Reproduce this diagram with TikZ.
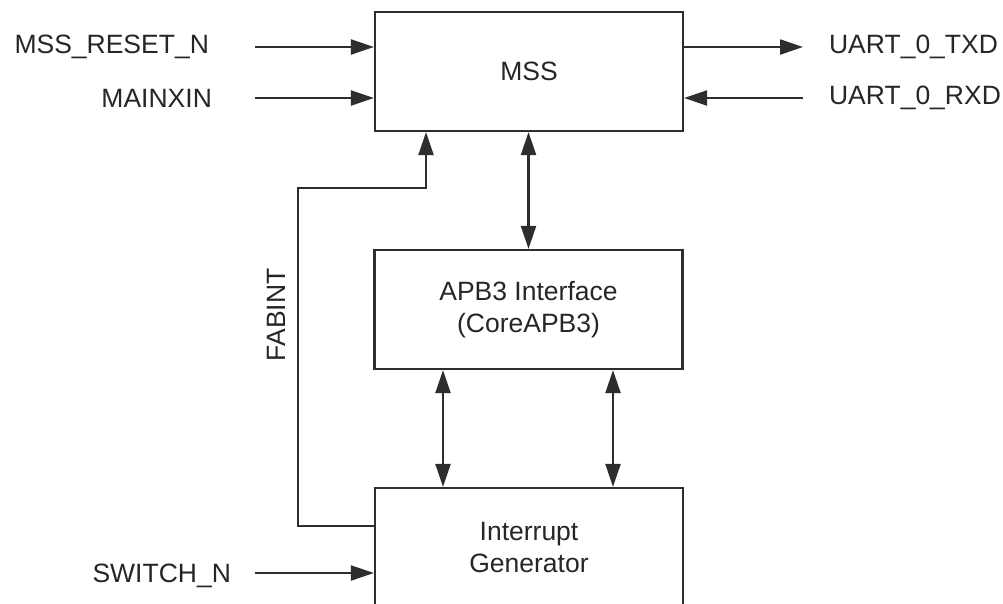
\documentclass[tikz,border=0pt]{standalone}
\usepackage{fontspec}
\setmainfont{Liberation Sans}
\usetikzlibrary{arrows.meta}
\definecolor{ink}{HTML}{2E2E2E}
\definecolor{txt}{HTML}{262626}
\begin{document}
\begin{tikzpicture}[x=1pt,y=-1pt,line width=2.2pt,draw=ink,
  every node/.style={text=txt,font=\fontsize{26.5}{32}\selectfont},
  blk/.style={draw=ink,minimum width=308pt,minimum height=119pt,inner sep=0pt,align=center},
  lbl/.style={inner sep=0pt},
  arr/.style={-{Triangle[length=23pt,width=15pt]}},
  biarr/.style={{Triangle[length=23pt,width=15pt]}-{Triangle[length=23pt,width=15pt]}}]
\useasboundingbox (0,0) rectangle (1003,603);
\clip (0,0) rectangle (1003,603);
\fill[white] (0,0) rectangle (1003,603);
% blocks
\node[blk] (mss) at (529,71.5) {MSS};
\node[blk] (apb) at (528.5,309.5) {APB3 Interface\\(CoreAPB3)};
\node[blk] (ig) at (529,547.5) {Interrupt\\Generator};
% input/output coordinates
\coordinate (rst) at (255,47);
\coordinate (xin) at (255,98);
\coordinate (sw) at (255,573);
\coordinate (tx) at (803,47);
\coordinate (rx) at (803,98);
% labels
\node[lbl,anchor=east] (lrst) at (210,47) {MSS\_RESET\_N};
\node[lbl,anchor=east] (lxin) at (213,98) {MAINXIN};
\node[lbl,anchor=east] (lsw) at (232,576) {SWITCH\_N};
\node[lbl,anchor=west] (ltx) at (828,47) {UART\_0\_TXD};
\node[lbl,anchor=west] (lrx) at (828,98) {UART\_0\_RXD};
\node[lbl,rotate=90] (lfab) at (276,315) {FABINT};
% connectors
\draw[arr] (rst) -- (rst -| mss.west);
\draw[arr] (xin) -- (xin -| mss.west);
\draw[arr] (sw) -- (sw -| ig.west);
\draw[arr] (tx -| mss.east) -- (tx);
\draw[arr] (rx) -- (rx -| mss.east);
\coordinate (f1) at (298,526);
\coordinate (f2) at (426,188);
\draw[arr] (f1 -| ig.west) -- (f1) |- (f2) -- (f2 |- mss.south);
\draw[biarr] (mss.south -| apb.north) -- (apb.north);
\coordinate (b1) at (443,0);
\coordinate (b2) at (613,0);
\draw[biarr] (b1 |- apb.south) -- (b1 |- ig.north);
\draw[biarr] (b2 |- apb.south) -- (b2 |- ig.north);
\end{tikzpicture}
\end{document}
